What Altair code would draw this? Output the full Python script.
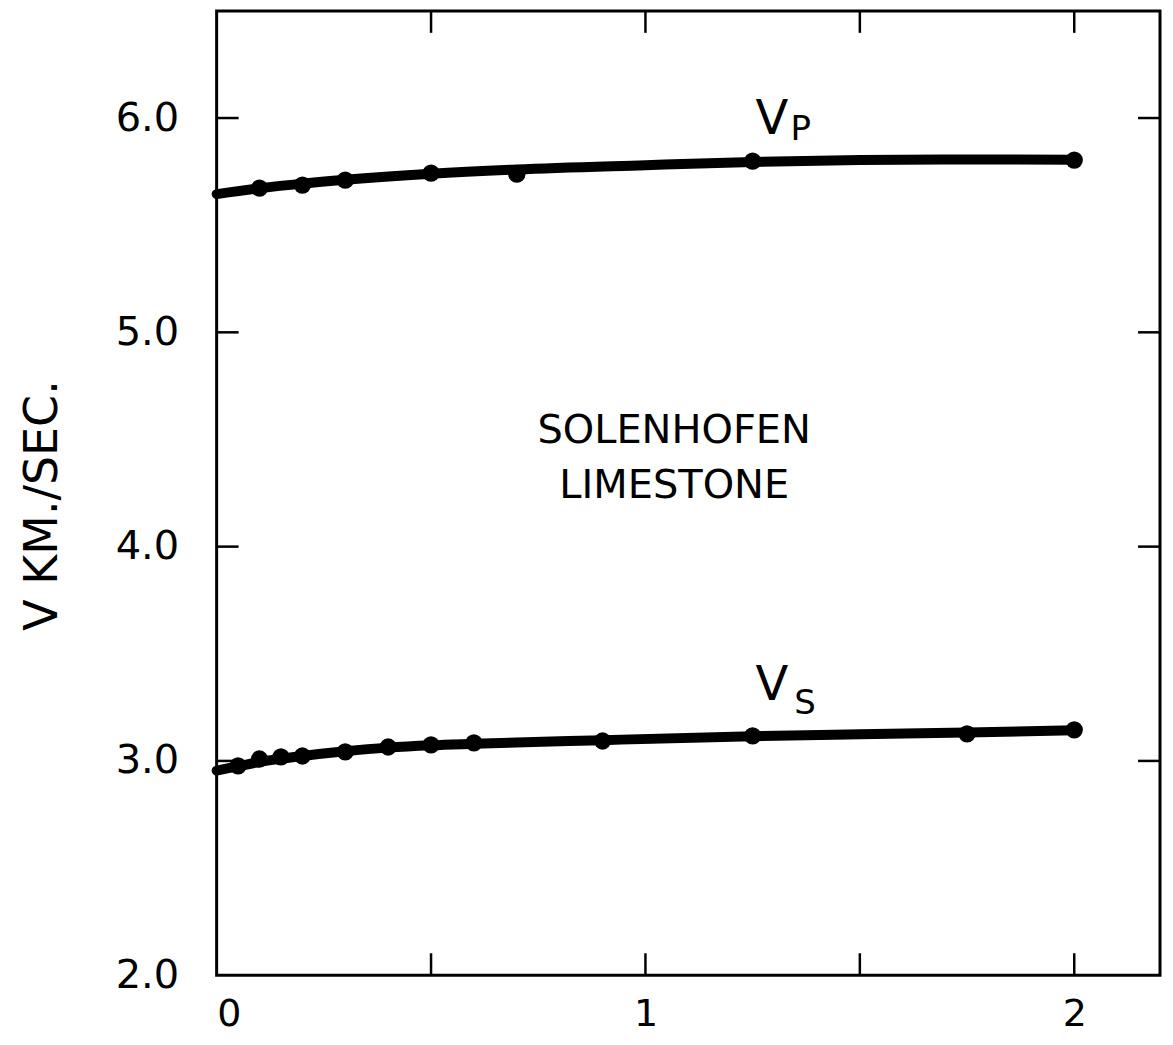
import altair as alt
import pandas as pd

# Measured points
vp_x = [0.1, 0.2, 0.3, 0.5, 0.7, 1.25, 2.0]
vp_y = [5.673, 5.687, 5.710, 5.743, 5.738, 5.799, 5.804]
vs_x = [0.05, 0.1, 0.15, 0.2, 0.3, 0.4, 0.5, 0.6, 0.9, 1.25, 1.75, 2.0]
vs_y = [2.977, 3.009, 3.019, 3.023, 3.042, 3.065, 3.075, 3.084, 3.093, 3.117, 3.126, 3.145]

# Smooth curves
vp_curve_x = [0, 0.1, 0.2, 0.3, 0.5, 0.7, 1.0, 1.25, 1.5, 1.75, 2.0]
vp_curve_y = [5.645, 5.672, 5.694, 5.712, 5.740, 5.760, 5.780, 5.795, 5.804, 5.807, 5.805]
vs_curve_x = [0, 0.05, 0.1, 0.15, 0.2, 0.3, 0.4, 0.5, 0.6, 0.9, 1.25, 1.5, 1.75, 2.0]
vs_curve_y = [2.955, 2.975, 2.995, 3.010, 3.023, 3.045, 3.062, 3.073, 3.080, 3.097, 3.115, 3.124, 3.133, 3.143]

x_ticks = [0.5, 1.0, 1.5, 2.0]
y_ticks = [3.0, 4.0, 5.0, 6.0]
x_labels = [0, 1, 2]
y_labels = [2.0, 3.0, 4.0, 5.0, 6.0]

W, H = 945, 966
FONT = "DejaVu Sans"

xs = alt.Scale(domain=[0, 2.2], nice=False, zero=False)
ys = alt.Scale(domain=[2.0, 6.5], nice=False, zero=False)

curves = pd.DataFrame({
    "x": vp_curve_x + vs_curve_x,
    "y": vp_curve_y + vs_curve_y,
    "s": ["P"] * len(vp_curve_x) + ["S"] * len(vs_curve_x),
})
pts = pd.DataFrame({
    "x": vp_x + vs_x,
    "y": vp_y + vs_y,
})

X = alt.X("x:Q", scale=xs, axis=alt.Axis(values=x_labels, format="d", title=None,
                                          grid=False, ticks=False, domain=False,
                                          labelFontSize=38, labelFont=FONT, labelColor="black",
                                          labelPadding=20, tickSize=0))
Y = alt.Y("y:Q", scale=ys, axis=alt.Axis(values=y_labels, format=".1f", title="V KM./SEC.",
                                          grid=False, ticks=False, domain=False,
                                          labelFontSize=40, labelFont=FONT, labelColor="black",
                                          labelPadding=38, tickSize=0,
                                          titleFontSize=46, titleFont=FONT, titleFontWeight="normal",
                                          titleColor="black", titleX=-174, titleY=495,
                                          titleAngle=270, titleAlign="center", titleBaseline="middle"))

lines = alt.Chart(curves).mark_line(color="black", strokeWidth=10, interpolate="monotone",
                                    strokeCap="round").encode(x=X, y=Y, detail="s:N")
dots = alt.Chart(pts).mark_circle(color="black", opacity=1, size=300).encode(
    x=alt.X("x:Q", scale=xs), y=alt.Y("y:Q", scale=ys))

xt = pd.DataFrame({"x": x_ticks})
yt = pd.DataFrame({"y": y_ticks})
tick_kw = dict(color="black", thickness=2.5, size=22, opacity=1)
tick_bottom = alt.Chart(xt).mark_tick(orient="vertical", **tick_kw).encode(
    x=alt.X("x:Q", scale=xs), y=alt.value(H - 11))
tick_top = alt.Chart(xt).mark_tick(orient="vertical", **tick_kw).encode(
    x=alt.X("x:Q", scale=xs), y=alt.value(11))
tick_left = alt.Chart(yt).mark_tick(orient="horizontal", **tick_kw).encode(
    y=alt.Y("y:Q", scale=ys), x=alt.value(11))
tick_right = alt.Chart(yt).mark_tick(orient="horizontal", **tick_kw).encode(
    y=alt.Y("y:Q", scale=ys), x=alt.value(W - 11))

name_df = pd.DataFrame({"x": [1.067, 1.067], "y": [4.54, 4.285], "t": ["SOLENHOFEN", "LIMESTONE"]})
name = alt.Chart(name_df).mark_text(font=FONT, fontSize=40, color="black",
                                    align="center", baseline="middle").encode(
    x=alt.X("x:Q", scale=xs), y=alt.Y("y:Q", scale=ys), text="t:N")

v_df = pd.DataFrame({"x": [1.295, 1.295], "y": [5.99, 3.35], "t": ["V", "V"]})
v_lab = alt.Chart(v_df).mark_text(font=FONT, fontSize=48, color="black",
                                  align="center", baseline="middle").encode(
    x=alt.X("x:Q", scale=xs), y=alt.Y("y:Q", scale=ys), text="t:N")
sub_df = pd.DataFrame({"x": [1.362, 1.372], "y": [5.944, 3.266], "t": ["P", "S"]})
sub_lab = alt.Chart(sub_df).mark_text(font=FONT, fontSize=34, color="black",
                                      align="center", baseline="middle").encode(
    x=alt.X("x:Q", scale=xs), y=alt.Y("y:Q", scale=ys), text="t:N")

chart = alt.layer(lines, dots, tick_bottom, tick_top, tick_left, tick_right, name, v_lab, sub_lab).properties(
    width=W, height=H,
    autosize=alt.AutoSizeParams(type="none"),
    padding={"left": 209, "top": 2, "right": 5, "bottom": 62},
    background="white",
).configure_view(stroke="black", strokeWidth=3, strokeOpacity=1)

chart.save("out.html", embed_options={"renderer": "svg", "actions": False})
